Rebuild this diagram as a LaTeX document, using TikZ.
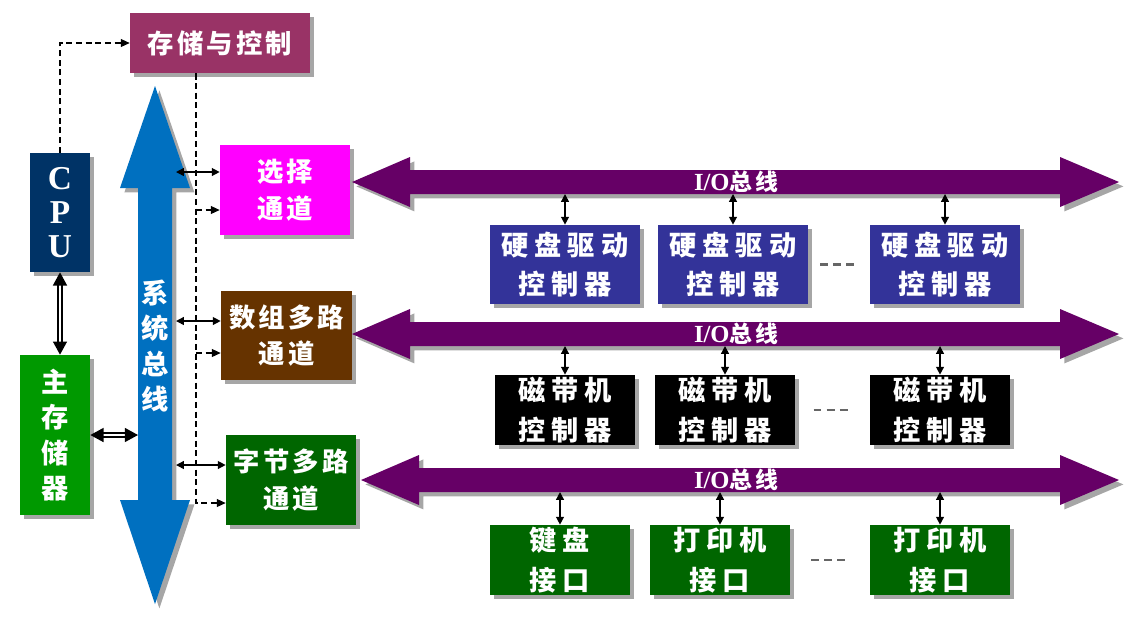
\documentclass[tikz,border=0pt]{standalone}
\usepackage{fontspec}
\setmainfont{Liberation Serif}
\newfontfamily\cjk[LetterSpace=12]{Noto Sans CJK SC}
\newfontfamily\cjkw[LetterSpace=22]{Noto Sans CJK SC}
\usetikzlibrary{arrows.meta,calc,shadows}
\definecolor{ctlred}{HTML}{993366}
\definecolor{cpublue}{HTML}{003366}
\definecolor{memgreen}{HTML}{009900}
\definecolor{sysblue}{HTML}{0070C0}
\definecolor{selpink}{HTML}{FF00FF}
\definecolor{arrbrown}{HTML}{663300}
\definecolor{devgreen}{HTML}{006600}
\definecolor{iopurple}{HTML}{660066}
\definecolor{hdblue}{HTML}{333399}

\begin{document}
\begin{tikzpicture}[x=0.02cm,y=-0.02cm,
 shd/.style={drop shadow={shadow xshift=2.5pt,shadow yshift=-2.5pt,fill=black,opacity=0.35}},
 blk/.style={shd,inner sep=0pt,text=white,align=center,font=\cjk\bfseries\fontsize{15pt}{21pt}\selectfont},
 dev/.style={blk,font=\cjkw\bfseries\fontsize{15.5pt}{22.5pt}\selectfont},
 col/.style={font=\cjk\bfseries\fontsize{15.5pt}{20pt}\selectfont},
 sarr/.style={{Triangle[length=4.5pt,width=4.5pt]}-{Triangle[length=4.5pt,width=4.5pt]},line width=0.8pt},
 darr/.style={-{Triangle[length=5pt,width=4.5pt]},line width=0.6pt,dash pattern=on 3.5pt off 2pt},
 dline/.style={line width=0.6pt,dash pattern=on 3.5pt off 2pt},
 wide/.style={double,double distance=1.6pt,line width=0.7pt,{Triangle[length=7.5pt,width=8pt]}-{Triangle[length=7.5pt,width=8pt]}},
 more/.style={black!60,line width=1.2pt,dash pattern=on 4.5pt off 3pt}]
\useasboundingbox[fill=white] (0,0) rectangle (1141,630);
% left part
\node[blk,fill=ctlred,minimum width=3.6cm,minimum height=1.2cm] (ctl) at (220,43) {存储与控制};
\node[blk,fill=cpublue,minimum width=1.2cm,minimum height=2.38cm,font=\bfseries\fontsize{19pt}{19.5pt}\selectfont] (cpu) at (60,212.5) {C\\P\\U};
\node[blk,col,fill=memgreen,minimum width=1.4cm,minimum height=3.2cm] (mem) at (55,435) {主\\存\\储\\器};
\fill[sysblue,shd] (155,86) -- (190,188) -- (172,188) -- (172,500) -- (190,500) -- (155,604)
 -- (120,500) -- (138,500) -- (138,188) -- (120,188) -- cycle;
\node[col,text=white,align=center,inner sep=0pt] (sbl) at (155,346) {系\\统\\总\\线};
\coordinate (sbw) at (138,0);
\coordinate (sbe) at (176,0);
\coordinate (dx) at (196,0);
% channels
\node[blk,fill=selpink,minimum width=2.6cm,minimum height=1.8cm] (sel) at (285,190) {选择\\通道};
\node[blk,fill=arrbrown,minimum width=2.62cm,minimum height=1.78cm] (arr) at (286.5,335.5) {数组多路\\通道};
\node[blk,fill=devgreen,minimum width=2.6cm,minimum height=1.8cm] (byt) at (291,480) {字节多路\\通道};
\draw[wide] (cpu.south) -- (cpu.south |- mem.north);
\draw[wide] (mem.east) -- (sbw |- mem.east);
\draw[darr] (cpu.north) |- (ctl.west);
\coordinate (d1) at ($(sel.west)+(0,20)$);
\coordinate (d2) at ($(arr.west)+(0,17.5)$);
\coordinate (d3) at ($(byt.west)+(0,23)$);
\draw[darr] (ctl.south -| dx) -- (dx |- d3) -- (d3);
\draw[darr] (dx |- d1) -- (d1);
\draw[darr] (dx |- d2) -- (d2);
\coordinate (s1) at ($(sel.west)+(0,-18)$);
\coordinate (s2) at ($(arr.west)+(0,-14.5)$);
\coordinate (s3) at ($(byt.west)+(0,-15)$);
\draw[sarr] (sbe |- s1) -- (s1);
\draw[sarr] (sbe |- s2) -- (s2);
\draw[sarr] (sbe |- s3) -- (s3);
% I/O buses
\foreach \n/\yy/\xl in {io1/182/352,io2/334/352,io3/480/361}{
 \fill[iopurple,shd] (\xl,\yy) -- (\xl+58,\yy-25) -- (\xl+58,\yy-12) -- (1060,\yy-12) -- (1060,\yy-25)
  -- (1119,\yy) -- (1060,\yy+25) -- (1060,\yy+12) -- (\xl+58,\yy+12) -- (\xl+58,\yy+25) -- cycle;
 \coordinate (\n) at (736,\yy+12);
 \node[text=white,inner sep=0pt] (\n l) at (736,\yy) {{\bfseries\fontsize{14pt}{14pt}\selectfont I/O}{\cjk\bfseries\fontsize{13pt}{13pt}\selectfont 总线}};
}
% devices
\node[dev,fill=hdblue,minimum width=3cm,minimum height=1.58cm] (hd1) at (565,264.5) {硬盘驱动\\控制器};
\node[dev,fill=hdblue,minimum width=3cm,minimum height=1.58cm] (hd2) at (733,264.5) {硬盘驱动\\控制器};
\node[dev,fill=hdblue,minimum width=3cm,minimum height=1.58cm] (hd3) at (945,264.5) {硬盘驱动\\控制器};
\node[dev,fill=black,minimum width=2.8cm,minimum height=1.4cm] (tp1) at (565,410) {磁带机\\控制器};
\node[dev,fill=black,minimum width=2.8cm,minimum height=1.4cm] (tp2) at (725,410) {磁带机\\控制器};
\node[dev,fill=black,minimum width=2.8cm,minimum height=1.4cm] (tp3) at (940,410) {磁带机\\控制器};
\node[dev,fill=devgreen,minimum width=2.8cm,minimum height=1.4cm] (kb) at (560,560) {键盘\\接口};
\node[dev,fill=devgreen,minimum width=2.8cm,minimum height=1.4cm] (pr1) at (720,560) {打印机\\接口};
\node[dev,fill=devgreen,minimum width=2.8cm,minimum height=1.4cm] (pr2) at (940,560) {打印机\\接口};
\foreach \b in {hd1,hd2,hd3} \draw[sarr] (io1 -| \b.north) -- (\b.north);
\foreach \b in {tp1,tp2,tp3} \draw[sarr] (io2 -| \b.north) -- (\b.north);
\foreach \b in {kb,pr1,pr2} \draw[sarr] (io3 -| \b.north) -- (\b.north);
\foreach \a/\b in {hd2/hd3,tp2/tp3,pr1/pr2}
 \draw[more] ($(\a.east)!.5!(\b.west)+(-19,0)$) -- ($(\a.east)!.5!(\b.west)+(19,0)$);
\end{tikzpicture}
\end{document}
